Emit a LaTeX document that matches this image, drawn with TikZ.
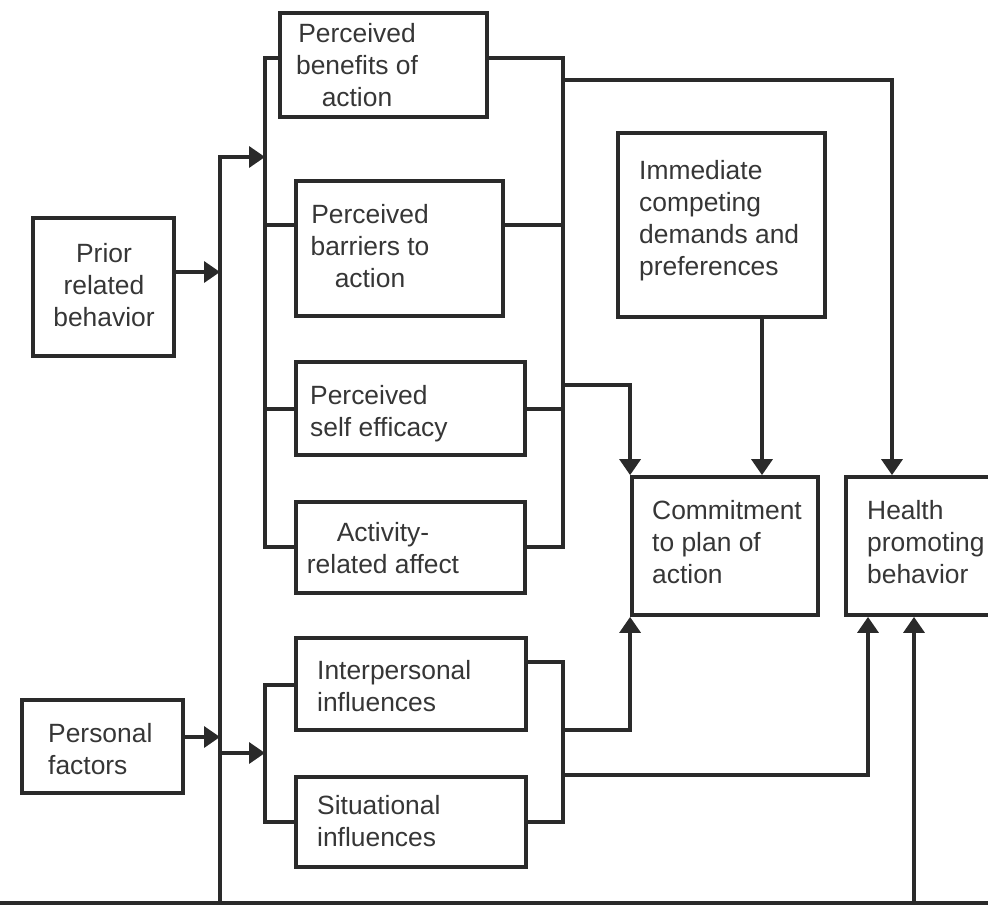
\documentclass[tikz,border=0pt]{standalone}
\usepackage{fontspec}
\setmainfont{Liberation Sans}
\usetikzlibrary{arrows.meta}
\definecolor{linec}{HTML}{2A2A2A}
\definecolor{textc}{HTML}{363636}
\tikzset{
	box/.style={draw=linec, line width=3.8pt, inner sep=0pt},
	txt/.style={text=textc, font=\fontsize{26.4}{32}\selectfont, inner sep=0pt},
	link/.style={draw=linec, line width=3.5pt, line cap=rect},
	arr/.style={link, -{Triangle[length=16pt,width=21pt]}}
}
\begin{document}
\begin{tikzpicture}[x=1pt,y=-1pt]
	\useasboundingbox (0,0) rectangle (988,906);
	\clip (0,0) rectangle (988,906);
	\node[box, minimum width=207pt, minimum height=104pt] (benefits) at (383.5,65) {};
	\node[box, minimum width=207pt, minimum height=135pt] (barriers) at (399.5,248.5) {};
	\node[box, minimum width=141pt, minimum height=138pt] (prior) at (103.5,287) {};
	\node[box, minimum width=229pt, minimum height=93pt] (selfeff) at (410.5,408.5) {};
	\node[box, minimum width=229pt, minimum height=91pt] (activity) at (410.5,547.5) {};
	\node[box, minimum width=207pt, minimum height=184pt] (immediate) at (721.5,225) {};
	\node[box, minimum width=186pt, minimum height=138pt] (commit) at (725,546) {};
	\node[box, minimum width=164pt, minimum height=138pt] (health) at (928,546) {};
	\node[box, minimum width=161pt, minimum height=93pt] (personal) at (102.5,746.5) {};
	\node[box, minimum width=230pt, minimum height=92pt] (interp) at (411,684) {};
	\node[box, minimum width=230pt, minimum height=90pt] (situ) at (411,822) {};

	\node[txt, align=center, anchor=north] (benefits-t) at (357,23) {Perceived\\benefits of\\action};
	\node[txt, align=center, anchor=north] (barriers-t) at (370,204) {Perceived\\barriers to\\action};
	\node[txt, align=center, anchor=north] (prior-t) at (104,243) {Prior\\related\\behavior};
	\node[txt, align=left, anchor=north west] (selfeff-t) at (310,385) {Perceived\\self efficacy};
	\node[txt, align=center, anchor=north] (activity-t) at (383,522) {Activity-\\related affect};
	\node[txt, align=left, anchor=north west] (immediate-t) at (639,160) {Immediate\\competing\\demands and\\preferences};
	\node[txt, align=left, anchor=north west] (commit-t) at (652,500) {Commitment\\to plan of\\action};
	\node[txt, align=left, anchor=north west] (health-t) at (867,500) {Health\\promoting\\behavior};
	\node[txt, align=left, anchor=north west] (personal-t) at (48,723) {Personal\\factors};
	\node[txt, align=left, anchor=north west] (interp-t) at (317,660) {Interpersonal\\influences};
	\node[txt, align=left, anchor=north west] (situ-t) at (317,795) {Situational\\influences};

	\coordinate (L1) at (220,157);
	\coordinate (L2) at (220,903);
	\coordinate (L3) at (220,753);
	\coordinate (M1) at (265,58);
	\coordinate (M2) at (265,547);
	\coordinate (M3) at (265,685);
	\coordinate (M4) at (265,822);
	\coordinate (R1) at (563,58);
	\coordinate (R2) at (563,547);
	\coordinate (R3) at (563,662);
	\coordinate (R4) at (563,822);
	\coordinate (B1) at (0,903);
	\coordinate (B2) at (988,903);
	\coordinate (B3) at (914,903);

	\draw[link] (L1) -- (L2);
	\draw[link] (B1) -- (B2);
	\draw[arr] (L1) -- (L1 -| M1);
	\draw[arr] ([yshift=15pt]prior.east) -- ([yshift=15pt]prior.east -| L1);
	\draw[arr] ([yshift=9.5pt]personal.east) -- ([yshift=9.5pt]personal.east -| L1);
	\draw[arr] (L3) -- (L3 -| M3);

	\draw[link] (M1) -- (M2);
	\draw[link] (M3) -- (M4);
	\draw[link] (M1) -- (M1 -| benefits.west);
	\draw[link] (M1 |- 0,225) -- (barriers.west |- 0,225);
	\draw[link] (M1 |- 0,409) -- (selfeff.west |- 0,409);
	\draw[link] (M2) -- (M2 -| activity.west);
	\draw[link] (M3) -- (M3 -| interp.west);
	\draw[link] (M4) -- (M4 -| situ.west);

	\draw[link] (R1) -- (R2);
	\draw[link] (R3) -- (R4);
	\draw[link] (benefits.east |- R1) -- (R1);
	\draw[link] (barriers.east |- 0,225) -- (R1 |- 0,225);
	\draw[link] (selfeff.east |- 0,409) -- (R1 |- 0,409);
	\draw[link] (activity.east |- R2) -- (R2);
	\draw[link] (interp.east |- R3) -- (R3);
	\draw[link] (situ.east |- R4) -- (R4);

	\draw[arr] (R1 |- 0,80) -| ([xshift=-36pt]health.north);
	\draw[arr] (R1 |- 0,385) -| (commit.north west);
	\draw[arr] ([xshift=40.5pt]immediate.south) -- ([xshift=40.5pt]immediate.south |- commit.north);
	\draw[arr] (R3 |- 0,730) -| (commit.south west);
	\draw[arr] (R3 |- 0,775) -| ([xshift=-60pt]health.south);
	\draw[arr] (B3) -- (B3 |- health.south);
\end{tikzpicture}
\end{document}
